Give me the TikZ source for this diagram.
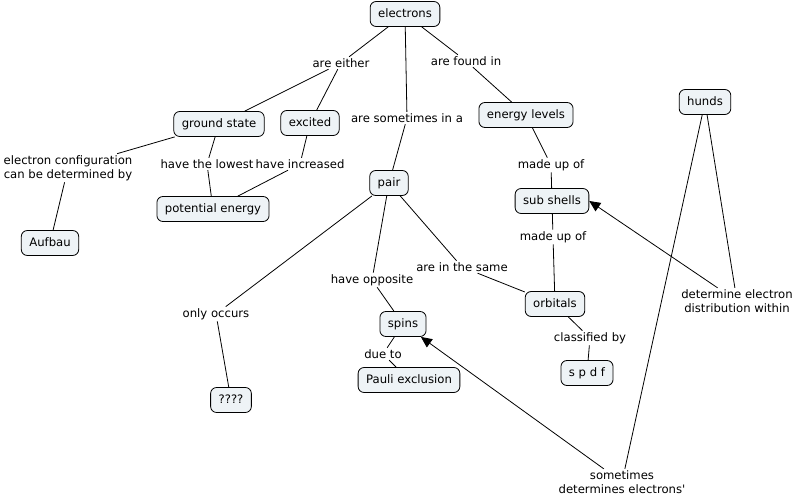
\documentclass[tikz,border=0pt]{standalone}
\usepackage{fontspec}
\setmainfont{DejaVu Sans}[Ligatures=TeXOff]
\usetikzlibrary{arrows.meta}
\definecolor{cfill}{HTML}{EEF3F6}
\begin{document}
\begin{tikzpicture}[x=1bp,y=-1bp,
  concept/.style={draw=black, line width=0.8bp, fill=cfill, rounded corners=6bp,
    inner xsep=8bp, inner ysep=0bp, minimum height=25bp, text height=9bp, text depth=2.5bp,
    font=\fontsize{11.7}{14}\selectfont},
  lbl/.style={inner sep=1.5bp, align=center, font=\fontsize{11.7}{14}\selectfont},
  link/.style={draw=black, line width=0.8bp},
  arr/.style={link, -{Triangle[length=11bp,width=10bp]}}]
\useasboundingbox (0,0) rectangle (798,497);
% concepts
\node[concept] (electrons) at (405,14) {electrons};
\node[concept] (ground) at (219,124) {ground state};
\node[concept] (excited) at (310,123) {excited};
\node[concept] (potential) at (213,209) {potential energy};
\node[concept] (aufbau) at (50,243) {Aufbau};
\node[concept] (pair) at (389,183) {pair};
\node[concept] (energy) at (526,115) {energy levels};
\node[concept] (hunds) at (705,102) {hunds};
\node[concept] (subshells) at (552,201) {sub shells};
\node[concept] (orbitals) at (555,304) {orbitals};
\node[concept] (spdf) at (587,373) {s p d f};
\node[concept] (spins) at (403,324) {spins};
\node[concept] (pauli) at (409,380) {Pauli exclusion};
\node[concept] (q) at (231,400) {????};
% linking phrases
\node[lbl] (l1) at (341,63) {are either};
\node[lbl] (l2) at (466,61) {are found in};
\node[lbl] (l3) at (407,118) {are sometimes in a};
\node[lbl] (l4) at (68,168) {electron configuration\\can be determined by};
\node[lbl] (l5) at (207,164) {have the lowest};
\node[lbl] (l6) at (300,164) {have increased};
\node[lbl] (l7) at (551,165) {made up of};
\node[lbl] (l8) at (553,237) {made up of};
\node[lbl] (l9) at (216,314) {only occurs};
\node[lbl] (l10) at (372,280) {have opposite};
\node[lbl] (l11) at (462,267) {are in the same};
\node[lbl] (l12) at (383,354) {due to};
\node[lbl] (l13) at (590,338) {classified by};
\node[lbl] (l14) at (737,301) {determine electron\\distribution within};
\node[lbl] (l15) at (622,482) {sometimes\\determines electrons'};
% connectors
\draw[link] (electrons) -- (l1);
\draw[link] (l1) -- (ground);
\draw[link] (l1) -- (excited);
\draw[link] (electrons) -- (l3);
\draw[link] (l3) -- (pair);
\draw[link] (electrons) -- (l2);
\draw[link] (l2) -- (energy);
\draw[link] (ground) -- (l4);
\draw[link] (l4) -- (aufbau);
\draw[link] (ground) -- (l5);
\draw[link] (l5) -- (potential);
\draw[link] (excited) -- (l6);
\draw[link] (l6) -- (potential);
\draw[link] (energy) -- (l7);
\draw[link] (l7) -- (subshells);
\draw[link] (subshells) -- (l8);
\draw[link] (l8) -- (orbitals);
\draw[link] (pair) -- (l9);
\draw[link] (l9) -- (q);
\draw[link] (pair) -- (l10);
\draw[link] (l10) -- (spins);
\draw[link] (pair) -- (l11);
\draw[link] (l11) -- (orbitals);
\draw[link] (spins) -- (l12);
\draw[link] (l12) -- (pauli);
\draw[link] (orbitals) -- (l13);
\draw[link] (l13) -- (spdf);
\draw[link] (hunds) -- (l14);
\draw[arr] (l14) -- (subshells.east);
\draw[link] (hunds) -- (l15);
\draw[arr] (l15) -- (spins);
\end{tikzpicture}
\end{document}
